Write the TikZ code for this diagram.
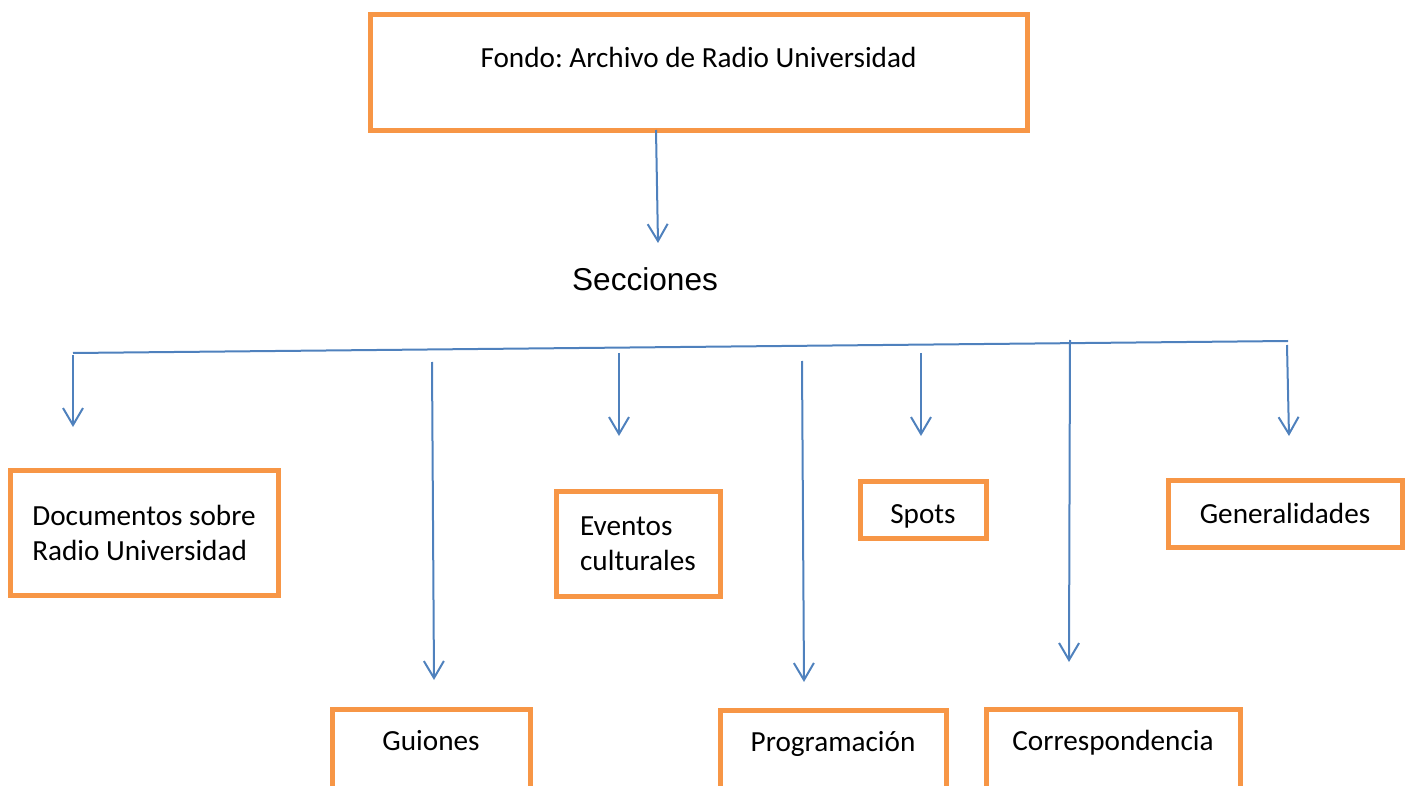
\documentclass[tikz,border=0pt]{standalone}
\usepackage{fontspec}
\setmainfont{Carlito}
\newfontfamily\arialfont{Liberation Sans}
\usetikzlibrary{arrows.meta}
\definecolor{boxorange}{HTML}{F79646}
\definecolor{lineblue}{HTML}{4F81BD}
\frenchspacing

\begin{document}
\begin{tikzpicture}[x=0.5pt,y=-0.5pt]
\tikzset{every node/.style={font=\fontsize{14.6}{17.5}\selectfont},
  box/.style={draw=boxorange, line width=2.5pt, inner sep=0pt},
  arr/.style={lineblue, line width=1pt, -{Straight Barb[length=8.5pt,width=10pt]}}}

\useasboundingbox (0,0) rectangle (1409,786);
\clip (0,0) rectangle (1409,786);

% Top box
\node[box, anchor=north, minimum width=328.5pt, text height=26.5pt, text depth=31.5pt] (fondo) at (698.5,12) {Fondo: Archivo de Radio Universidad};

\node[font=\arialfont\fontsize{15.8}{19}\selectfont] (secc) at (645,279) {Secciones};

% Section boxes
\node[box, minimum width=134pt, minimum height=62.5pt, align=left] (docs) at (144,532.5) {Documentos sobre\\Radio Universidad};
\node[box, minimum width=82pt, minimum height=52.5pt, align=left] (event) at (638,543.5) {Eventos\\culturales};
\node[box, anchor=north, minimum width=63pt, text height=21pt, text depth=7.5pt] (spots) at (923,479) {Spots};
\node[box, minimum width=117pt, minimum height=33.5pt] (gen) at (1285,513.5) {Generalidades};

\node[box, anchor=north, minimum width=99pt, text height=20.5pt, text depth=40pt] (guion) at (431,707) {Guiones};
\node[box, anchor=north, minimum width=113pt, text height=20.5pt, text depth=40pt] (prog) at (833,708) {Programación};
\node[box, anchor=north, minimum width=127pt, text height=20.5pt, text depth=40pt] (corr) at (1113,707) {Correspondencia};

% Arrow ends
\coordinate (fondoA) at (656,130);
\coordinate (fondoB) at (658,243);
\coordinate (barL) at (73,353);
\coordinate (barR) at (1288,341);

\coordinate (docsA) at (73,355);   \coordinate (docsB) at (73,427);
\coordinate (guionA) at (432,362); \coordinate (guionB) at (434,680);
\coordinate (eventA) at (619,353); \coordinate (eventB) at (619,436);
\coordinate (progA) at (802,361);  \coordinate (progB) at (804,682);
\coordinate (spotsA) at (921,353); \coordinate (spotsB) at (921,436);
\coordinate (corrA) at (1070,340); \coordinate (corrB) at (1069,662);
\coordinate (genA) at (1287,345);  \coordinate (genB) at (1289,436);

% Arrows
\draw[arr] (fondoA) -- (fondoB);
\draw[lineblue, line width=1pt] (barL) -- (barR);
\draw[arr] (docsA) -- (docsB);
\draw[arr] (guionA) -- (guionB);
\draw[arr] (eventA) -- (eventB);
\draw[arr] (progA) -- (progB);
\draw[arr] (spotsA) -- (spotsB);
\draw[arr] (corrA) -- (corrB);
\draw[arr] (genA) -- (genB);

\end{tikzpicture}
\end{document}
